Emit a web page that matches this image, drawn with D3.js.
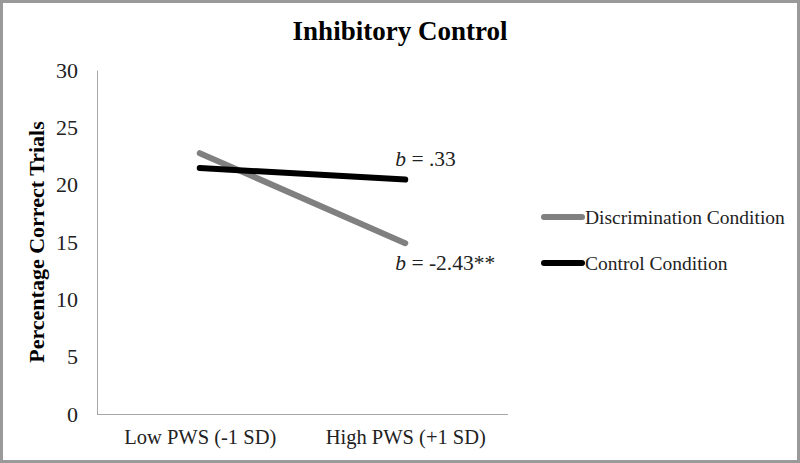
<!DOCTYPE html>
<html>
<head>
<meta charset="utf-8">
<script src="https://cdn.jsdelivr.net/npm/d3@7"></script>
<style>
  body { margin: 0; background: #fff; }
  svg { display: block; font-family: "Liberation Serif", "DejaVu Serif", serif; }
</style>
</head>
<body>
<svg id="chart"></svg>
<script>
"use strict";

var width = 800,
    height = 463;

// data
var categories = ["Low PWS (-1 SD)", "High PWS (+1 SD)"],
    seriesNames = ["Discrimination Condition", "Control Condition"],
    discrimination = [22.75, 14.9],
    control = [21.45, 20.45],
    slopeLabels = [".33", "-2.43**"],
    yTicks = [0, 5, 10, 15, 20, 25, 30];

var colors = ["#808080", "#000000"];
var series = [discrimination, control];

var margin = { left: 97, right: 292, top: 70, bottom: 49 };

var x = d3.scalePoint()
    .domain(categories)
    .range([margin.left, width - margin.right])
    .padding(0.5);

var y = d3.scaleLinear()
    .domain([0, 30])
    .range([height - margin.bottom, margin.top]);

var svg = d3.select("#chart")
    .attr("width", width)
    .attr("height", height);

// outer frame
svg.append("rect")
    .attr("x", 1.5).attr("y", 1.5)
    .attr("width", width - 3).attr("height", height - 3)
    .attr("fill", "#fff")
    .attr("stroke", "#9a9a9a")
    .attr("stroke-width", 3);

// title
svg.append("text")
    .attr("x", 400)
    .attr("y", 40)
    .attr("text-anchor", "middle")
    .attr("font-size", 27)
    .attr("font-weight", "bold")
    .text("Inhibitory Control");

// y axis
var yAxis = svg.append("g")
    .attr("transform", "translate(" + margin.left + ",0)")
    .call(d3.axisLeft(y).tickValues(yTicks).tickSize(0).tickPadding(19));
yAxis.select(".domain").attr("stroke", "#a6a6a6");
yAxis.selectAll("text")
    .attr("font-family", "Liberation Serif")
    .attr("font-size", 22)
    .attr("fill", "#222");

// x axis
var xAxis = svg.append("g")
    .attr("transform", "translate(0," + (height - margin.bottom) + ")")
    .call(d3.axisBottom(x).tickSize(0).tickPadding(15));
xAxis.select(".domain")
    .attr("stroke", "#a6a6a6")
    .attr("d", "M" + margin.left + ",0.5H" + (width - margin.right));
xAxis.selectAll("text")
    .attr("font-family", "Liberation Serif")
    .attr("font-size", 20.5)
    .attr("fill", "#222");

// y axis title
svg.append("text")
    .attr("transform", "translate(44," + 242 + ") rotate(-90)")
    .attr("text-anchor", "middle")
    .attr("font-size", 22)
    .attr("font-weight", "bold")
    .text("Percentage Correct Trials");

// lines
var line = d3.line()
    .x(function (d, i) { return x(categories[i]); })
    .y(function (d) { return y(d); });

svg.selectAll(".series")
    .data(series)
    .enter()
    .append("path")
    .attr("class", "series")
    .attr("d", line)
    .attr("fill", "none")
    .attr("stroke", function (d, i) { return colors[i]; })
    .attr("stroke-width", 6)
    .attr("stroke-linecap", "round");

// slope annotations
var notePos = [
    { v: control[1], dy: -14 },
    { v: discrimination[1], dy: 27 }
];
var notes = svg.selectAll(".note")
    .data(slopeLabels)
    .enter()
    .append("text")
    .attr("class", "note")
    .attr("x", x(categories[1]) - 10)
    .attr("y", function (d, i) { return y(notePos[i].v) + notePos[i].dy; })
    .attr("font-size", 21.5)
    .attr("fill", "#222");
notes.append("tspan").attr("font-style", "italic").text("b");
notes.append("tspan").text(function (d) { return " = " + d; });

// legend
var legend = svg.selectAll(".legend")
    .data(seriesNames)
    .enter()
    .append("g")
    .attr("class", "legend")
    .attr("transform", function (d, i) { return "translate(544," + (217 + i * 46) + ")"; });

legend.append("line")
    .attr("x1", 0).attr("x2", 38)
    .attr("stroke", function (d, i) { return colors[i]; })
    .attr("stroke-width", 6)
    .attr("stroke-linecap", "round");

legend.append("text")
    .attr("x", 41)
    .attr("dy", "0.35em")
    .attr("font-size", 19.5)
    .attr("fill", "#222")
    .text(function (d) { return d; });
</script>
</body>
</html>
